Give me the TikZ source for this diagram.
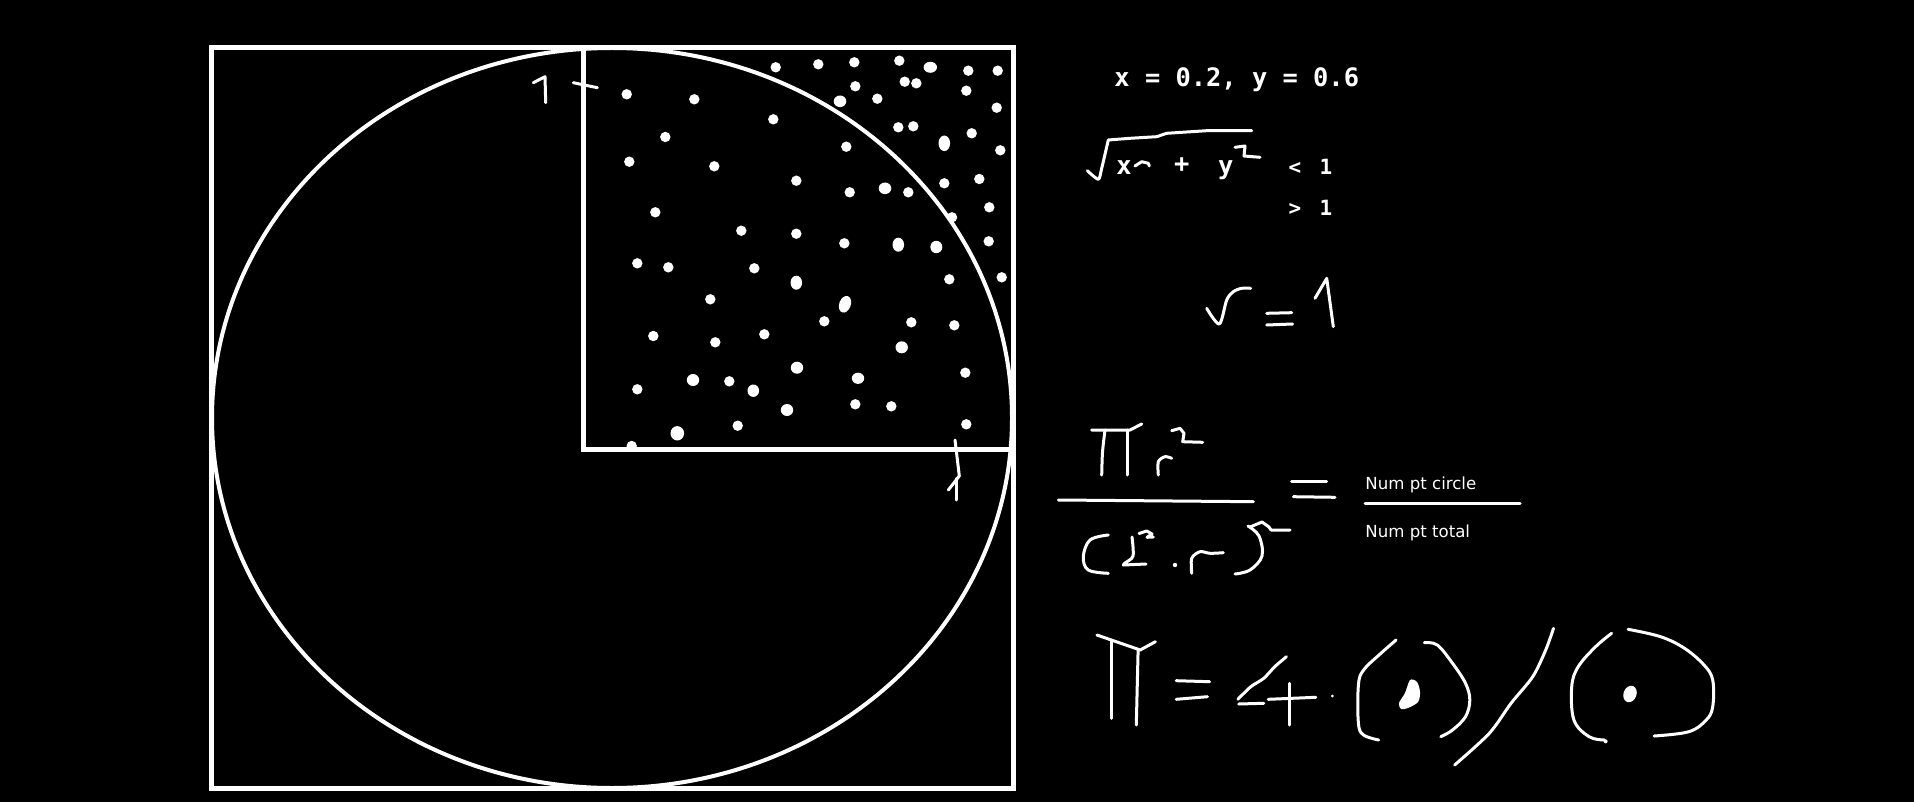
\documentclass[tikz,border=0pt]{standalone}
\usepackage{fontspec}
\newfontfamily\monofont{DejaVu Sans Mono}
\newfontfamily\labelfont{DejaVu Sans}
\begin{document}
\begin{tikzpicture}[x=0.5pt,y=-0.5pt,
  frame/.style={draw=white, line width=2.5pt},
  circ/.style={draw=white, line width=2pt},
  hand/.style={draw=white, line width=1.5pt, line cap=round, line join=round},
  bigtxt/.style={text=white, inner sep=0pt, font=\monofont\bfseries\fontsize{12.7pt}{14pt}\selectfont},
  smalltxt/.style={text=white, inner sep=0pt, font=\monofont\bfseries\fontsize{10.5pt}{12pt}\selectfont},
  lbl/.style={text=white, inner sep=0pt, anchor=base west, font=\labelfont\fontsize{8.3pt}{10pt}\selectfont}]
\useasboundingbox (0,0) rectangle (1914,802);
\fill[black] (0,0) rectangle (1914,802);

% frames and circle
\draw[frame] (211.7,47.5) rectangle (1013.5,788.3);
\draw[frame] (583.3,47.5) -- (583.3,449) -- (1013.5,449);
\draw[circ] (612,418) ellipse [x radius=400, y radius=370];

% random points
\foreach \px/\py in {775.7/67.3, 818.3/64.3, 854.3/62.3, 899.3/60.7, 968.3/70.7, 997.7/70.7,
  626.7/94.3, 694.3/99.3, 855.3/86.3, 904.7/81.7, 916.3/83.3, 966.3/90.7, 877.3/98.7,
  996.7/107.7, 773.3/119.3, 665.3/137, 898.3/127.3, 913.3/126.3, 971.7/133.3, 846.3/146.7,
  1000.3/150.3, 629.3/161.7, 714.3/166.3, 796.3/180.7, 849.7/192.3, 908.3/192.3, 944.3/183.3,
  979.3/179, 655.3/212.3, 952/217.3, 989.3/207.3, 741.3/230.7, 796.3/233.7, 844.3/243.3,
  988.7/241.3, 637.3/263.3, 668.3/267.3, 754.3/268.3, 949.3/279.3, 1001.7/277.3, 710.3/299.3,
  824.3/321.3, 911.3/322.3, 954.3/325.3, 653.3/336, 715.3/342.3, 764.3/334.3, 965.3/372.7,
  637.3/389.3, 729.3/381.3, 855.3/404.3, 891.3/406.3, 737.7/425.7, 966.3/424.3, 631.7/446}
  \fill[white] (\px,\py) circle [radius=5.2];
\foreach \px/\py/\rx/\ry in {930.3/67.3/6.7/5.5, 840/101.3/6.3/5.8, 944.3/143.3/5.8/7.8,
  885/188.3/6.3/5.8, 898.3/244.7/5.8/7, 936.3/247/6/6.2, 796.3/282.7/5.8/7,
  901.7/347.3/6.2/6, 797/367.7/6.2/6, 693/380/6.2/6, 753.3/390.7/5.8/6.2, 858/378.3/6.2/5.6,
  787/410/6.2/6, 677.3/433.3/6.8/7.2}
  \fill[white] (\px,\py) ellipse [x radius=\rx, y radius=\ry];
\fill[white, rotate around={-20:(845,304.3)}] (845,304.3) ellipse [x radius=5.8, y radius=8.6];

% axis marks "1"
\draw[hand] (533.3,82.7) -- (545,76.7) -- (545.7,102.7);
\draw[hand] (573.3,82.7) -- (597.3,87.7);
\draw[hand] (955,440) -- (959.3,476) -- (948.3,490);
\draw[hand] (956.7,478.3) -- (956.7,500);

% x = 0.2, y = 0.6
\node[bigtxt, anchor=base west] (coords) at (1114,86.7) {x = 0.2, y = 0.6};

% sqrt(x^2+y^2) < 1 / > 1
\draw[hand] plot[smooth, tension=0.4] coordinates {(1087.3,170.7) (1098.3,179.3) (1101.7,168.3) (1108.3,140)}
  -- (1130,138.3) -- (1156.7,136.7) -- (1166.7,133.3) -- (1206.7,130.7) -- (1251.7,130.7);
\node[bigtxt, anchor=base] (sx) at (1124,175) {x};
\draw[hand] (1135,166) -- (1141.7,161.7) -- (1148.3,163.3) -- (1149.3,166);
\node[bigtxt, anchor=base] (splus) at (1181.7,173) {+};
\node[bigtxt, anchor=base] (sy) at (1225.7,175) {y};
\draw[hand] (1235,147.3) -- (1245,146) -- (1244,156) -- (1260,157.3);
\node[smalltxt, anchor=base] (lt) at (1295,175) {<};
\node[smalltxt, anchor=base] (lt1) at (1326,175) {1};
\node[smalltxt, anchor=base] (gt) at (1295,215) {>};
\node[smalltxt, anchor=base] (gt1) at (1326,215) {1};

% r = 1
\draw[hand] plot[smooth, tension=0.5] coordinates {(1206.7,308.3) (1219.3,324) (1226.7,300) (1233.3,291.7) (1241.7,288.3) (1250.7,288.3)};
\draw[hand] (1266.7,313.3) -- (1291.7,312.7);
\draw[hand] (1266.7,325) -- (1292.7,324);
\draw[hand] (1315,298.3) -- (1326.7,278.3) -- (1333.3,326.7);

% pi r^2 / (2^2 . r)^2
\draw[hand] (1091.7,430) -- (1130,430) -- (1141.7,424);
\draw[hand] plot[smooth] coordinates {(1105,430) (1102.5,452) (1101.7,475)};
\draw[hand] (1127.3,430) -- (1127.3,475);
\draw[hand] plot[smooth, tension=0.5] coordinates {(1158.3,475) (1158.3,461.7) (1165,456.7) (1171.7,458.3)};
\draw[hand] (1171.7,430.7) -- (1180,428.3) -- (1184,433.3) -- (1182.7,441.7) -- (1202.7,442.3);
\draw[hand] (1058.3,500) -- (1253.3,501.7);
\draw[hand] (1291.7,481.7) -- (1326.7,481.7);
\draw[hand] (1293.3,496.7) -- (1335,497.3);
\draw[hand] plot[smooth, tension=0.6] coordinates {(1108.3,535) (1090,540) (1083.3,556.7) (1088.3,570) (1108.3,573.3)};
\draw[hand] (1139,533.5) -- (1146.7,531) -- (1152,534) -- (1147,537.3) -- (1153.3,537);
\draw[hand] plot[smooth, tension=0.5] coordinates {(1132,537) (1133,556) (1125,563) (1123.3,565)} -- (1146,564);
\fill[white] (1175,565) circle [radius=2.2];
\draw[hand] plot[smooth, tension=0.5] coordinates {(1191.7,573.3) (1191.7,558.3) (1200,551.7) (1210,553.3) (1223.3,552.7)};
\draw[hand] plot[smooth, tension=0.6] coordinates {(1248,526) (1259,536) (1262,556) (1250,570) (1235,574)};
\draw[hand] (1250,527) -- (1262,522) -- (1269,527) -- (1271,530) -- (1290,530);

\node[lbl] (numc) at (1365,489.3) {Num pt circle};
\draw[hand] (1365,503.3) -- (1520,503.3);
\node[lbl] (numt) at (1365,537.3) {Num pt total};

% pi = 4 . (o) / (o)
\draw[hand] (1096.9,635) -- (1140.2,650) -- (1155.4,641.7);
\draw[hand] (1111.2,640) -- (1111.2,718.3);
\draw[hand] (1138.1,650) -- (1136.3,725);
\draw[hand] (1176.2,680.7) -- (1209.6,681.7);
\draw[hand] (1176.2,699.3) -- (1207.4,696.7);
\draw[hand] plot[smooth, tension=0.4] coordinates {(1286.4,656.7) (1274.7,666.7) (1263.8,678.3) (1250.8,686.7) (1237.8,699.3)};
\draw[hand] (1238.7,704) -- (1263.8,703.3);
\draw[hand] (1289.8,683.3) -- (1289.8,725);
\draw[hand] (1268.2,699.3) -- (1315.9,697.3);
\fill[white] (1332.3,696) circle [radius=1.5];
\draw[hand] plot[smooth, tension=0.6] coordinates {(1396.1,640) (1380.9,653.3) (1363.6,670) (1358.4,685) (1358.4,723.3) (1363.6,735) (1378.7,740)};
\fill[white] plot[smooth cycle] coordinates {(1410,680) (1417,682) (1420,692) (1418,702) (1408,708) (1401,709) (1399,703) (1405,693)};
\draw[hand] plot[smooth, tension=0.6] coordinates {(1424.3,642.7) (1437.3,645) (1452.5,663.3) (1465.5,683.3) (1469.8,700) (1465.5,716.7) (1452.5,730) (1440.8,736.7)};
\draw[hand] plot[smooth, tension=0.5] coordinates {(1553.5,628.3) (1545.7,650) (1532.7,676.7) (1511,703.3) (1489.3,733.3) (1454.6,765)};
\draw[hand] plot[smooth, tension=0.6] coordinates {(1611.6,633.3) (1595.6,646.7) (1578.2,666.7) (1571.7,686.7) (1573.9,720) (1589.1,736.7) (1604.3,740)};
\fill[white] (1605.6,741.3) circle [radius=2];
\draw[hand] plot[smooth, tension=0.6] coordinates {(1628.1,629.3) (1660.6,636.7) (1684.5,648.3) (1704,665) (1712.7,680) (1712.7,706.7) (1706.2,720) (1688.8,731.7) (1654.1,736)};
\fill[white, rotate around={-20:(1630,694)}] (1630,694) ellipse [x radius=6.5, y radius=8.5];
\end{tikzpicture}
\end{document}
